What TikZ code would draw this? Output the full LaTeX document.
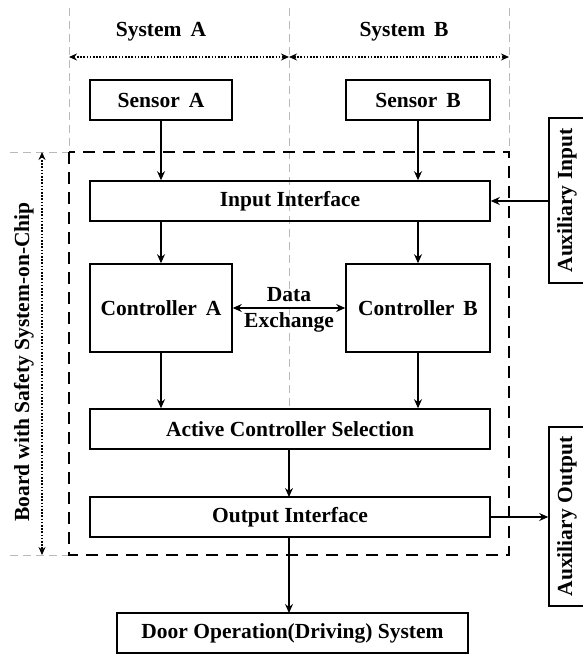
\documentclass[tikz,border=0pt]{standalone}
\usepackage{fontspec}
\setmainfont{Liberation Serif}
\usetikzlibrary{arrows.meta}
\begin{document}
\begin{tikzpicture}[x=1pt,y=-1pt,
  box/.style={draw,line width=1.6pt,inner sep=0pt,font=\bfseries\fontsize{21.5}{24}\selectfont},
  arr/.style={line width=1.3pt,-{Stealth[length=9pt,width=8pt]}},
  guide/.style={gray!55,line width=0.8pt,dash pattern=on 8pt off 5pt},
  dim/.style={line width=1.5pt,dash pattern=on 1.6pt off 1.6pt,{Stealth[length=8pt,width=7pt]}-{Stealth[length=8pt,width=7pt]}},
  lbl/.style={font=\bfseries\fontsize{21.5}{24}\selectfont}]
\useasboundingbox (0,0) rectangle (582,655);
% guides
\draw[guide] (69,8) -- (69,152);
\draw[guide] (289,8) -- (289,409);
\draw[guide] (509,8) -- (509,152);
\draw[guide] (10,152) -- (69,152);
\draw[guide] (10,555) -- (69,555);
% system labels
\node[lbl] (sysA) at (161,32) {System\, A};
\node[lbl] (sysB) at (404,32) {System\, B};
\coordinate (gA) at (69,57);
\coordinate (gM) at (289,57);
\coordinate (gB) at (509,57);
\draw[dim] (gA) -- (gM);
\draw[dim] (gM) -- (gB);
% board
\draw[line width=1.6pt,dash pattern=on 12pt off 8pt] (69,152) rectangle (509,555);
\coordinate (bt) at (42,152);
\coordinate (bb) at (42,555);
\draw[dim] (bt) -- (bb);
\node[rotate=90,font=\bfseries\fontsize{21.5}{24}\selectfont] (board) at (24,362) {Board with Safety System-on-Chip};
% boxes
\node[box,minimum width=142pt,minimum height=40pt] (sa) at (161,100) {Sensor\, A};
\node[box,minimum width=144pt,minimum height=40pt] (sb) at (418,100) {Sensor\, B};
\node[box,minimum width=400pt,minimum height=40pt] (ii) at (290,201) {Input Interface};
\node[box,minimum width=142pt,minimum height=88pt] (ca) at (161,308) {Controller\, A};
\node[box,minimum width=144pt,minimum height=88pt] (cb) at (418,308) {Controller\, B};
\node[box,minimum width=400pt,minimum height=40pt] (acs) at (290,429) {Active Controller Selection};
\node[box,minimum width=400pt,minimum height=40pt] (oi) at (290,517) {Output Interface};
\node[box,minimum width=351pt,minimum height=40pt] (door) at (292.5,633) {Door Operation(Driving) System};
\node[box,rotate=90,minimum width=165pt,minimum height=36pt] (ai) at (567,200.5) {Auxiliary Input};
\node[box,rotate=90,minimum width=179pt,minimum height=36pt] (ao) at (567,516.5) {Auxiliary Output};
% arrows
\draw[arr] (sa.south) -- (sa.south |- ii.north);
\draw[arr] (sb.south) -- (sb.south |- ii.north);
\draw[arr] (ca.north |- ii.south) -- (ca.north);
\draw[arr] (cb.north |- ii.south) -- (cb.north);
\draw[arr] (ca.south) -- (ca.south |- acs.north);
\draw[arr] (cb.south) -- (cb.south |- acs.north);
\draw[arr] (289,449) -- (289,497);
\draw[arr] (289,537) -- (289,613);
\draw[arr] (ai.north |- ii.east) -- (ii.east);
\draw[arr] (oi.east) -- (oi.east -| ao.north);
\draw[line width=1.3pt,{Stealth[length=9pt,width=8pt]}-{Stealth[length=9pt,width=8pt]}] (ca.east) -- (cb.west);
\node[lbl] (dx) at (289,295) {Data};
\node[lbl] (ex) at (289,322) {Exchange};
\end{tikzpicture}
\end{document}
